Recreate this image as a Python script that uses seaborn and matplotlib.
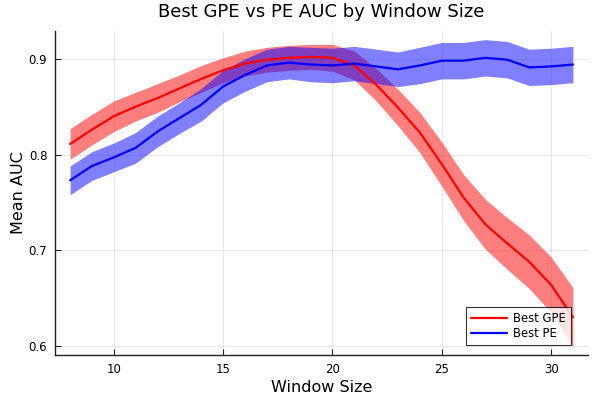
import seaborn as sns
import numpy as np
import pandas as pd
import matplotlib
matplotlib.use('Agg')
import matplotlib.pyplot as plt

window = list(range(8, 32))
gpe_mean = [0.811, 0.826, 0.840, 0.850, 0.859, 0.869, 0.879, 0.888, 0.895, 0.899, 0.901, 0.902,
            0.901, 0.893, 0.873, 0.849, 0.823, 0.790, 0.755, 0.727, 0.707, 0.688, 0.664, 0.630]
gpe_err = [0.016, 0.016, 0.016, 0.015, 0.015, 0.014, 0.014, 0.013, 0.013, 0.013, 0.013, 0.013,
           0.014, 0.015, 0.017, 0.019, 0.021, 0.023, 0.024, 0.026, 0.027, 0.028, 0.029, 0.031]
pe_mean = [0.773, 0.788, 0.797, 0.807, 0.824, 0.838, 0.852, 0.871, 0.883, 0.893, 0.896, 0.894,
           0.893, 0.895, 0.892, 0.889, 0.893, 0.898, 0.898, 0.901, 0.899, 0.891, 0.892, 0.894]
pe_err = [0.015, 0.015, 0.015, 0.016, 0.016, 0.016, 0.017, 0.017, 0.017, 0.017, 0.017, 0.018,
          0.018, 0.018, 0.018, 0.018, 0.019, 0.019, 0.019, 0.019, 0.019, 0.019, 0.019, 0.019]

df = pd.DataFrame({
    'Window Size': window * 2,
    'Mean AUC': gpe_mean + pe_mean,
    'err': gpe_err + pe_err,
    'method': ['Best GPE'] * len(window) + ['Best PE'] * len(window),
})
colors = {'Best GPE': '#ff0000', 'Best PE': '#0000ff'}

sns.set_style('white')
plt.rcParams['text.color'] = 'black'
plt.rcParams['axes.labelcolor'] = 'black'

fig = plt.figure(figsize=(6, 4), dpi=100)
ax = fig.add_axes([55 / 600, 1 - 355 / 400, 533 / 600, 324 / 400])

# ribbon then line per series, so the second ribbon covers the first line
for name in ['Best GPE', 'Best PE']:
    d = df[df['method'] == name]
    ax.fill_between(d['Window Size'], d['Mean AUC'] - d['err'], d['Mean AUC'] + d['err'],
                    color=colors[name], alpha=0.5, linewidth=0)
    sns.lineplot(data=d, x='Window Size', y='Mean AUC', color=colors[name], lw=1.6,
                 label=name, ax=ax)

ax.set_xlim(7.31, 31.69)
ax.set_ylim(0.5906, 0.929)
ax.set_xticks([10, 15, 20, 25, 30])
ax.set_yticks([0.6, 0.7, 0.8, 0.9])
ax.grid(True, color='black', alpha=0.1, lw=0.6)
for s in ['top', 'right']:
    ax.spines[s].set_visible(False)
for s in ['left', 'bottom']:
    ax.spines[s].set_color('#222222')
    ax.spines[s].set_linewidth(1.0)
ax.tick_params(direction='in', length=4.3, width=0.8, labelsize=8.5, colors='#222222',
               labelcolor='black', left=True, bottom=True)
ax.tick_params(axis='y', pad=5.5)
ax.tick_params(axis='x', pad=6)

ax.set_title('Best GPE vs PE AUC by Window Size', fontsize=13, pad=10)
ax.set_xlabel('Window Size', fontsize=11.5, labelpad=3)
ax.set_ylabel('Mean AUC', fontsize=11.5, labelpad=2)

leg = ax.legend(loc='lower right', bbox_to_anchor=(516 / 533, 10 / 324), borderaxespad=0,
                fontsize=8.4, frameon=True, fancybox=False, borderpad=0.45,
                handlelength=3.1, handletextpad=0.5, labelspacing=0.15)
leg.get_frame().set_edgecolor('black')
leg.get_frame().set_linewidth(0.8)

fig.savefig('out.png', dpi=100)
